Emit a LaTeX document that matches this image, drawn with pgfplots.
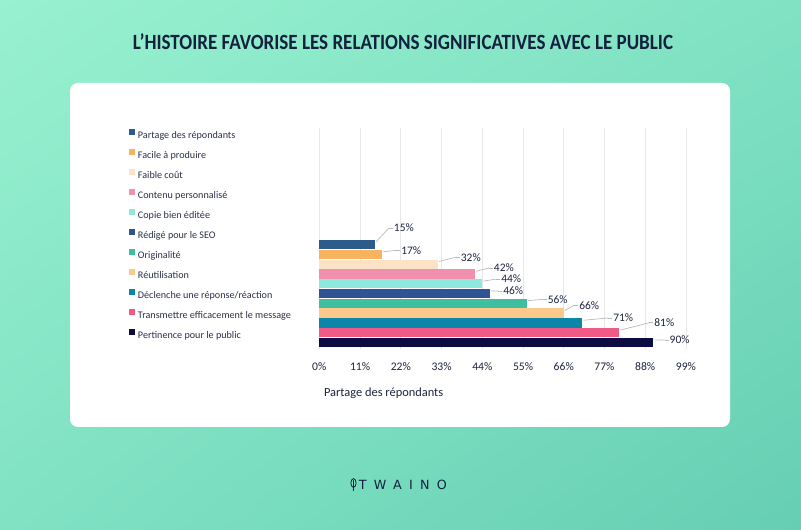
\documentclass[border=0pt]{standalone}
\usepackage{pgfplots}
\pgfplotsset{compat=1.18}
\usetikzlibrary{shadings}
\usepackage{fontspec}
\setmainfont{Carlito}
\newfontfamily\logofont{DejaVu Sans}[LetterSpace=58]
\definecolor{bgA}{HTML}{98F1D0}
\definecolor{bgB}{HTML}{80E2C3}
\definecolor{bgC}{HTML}{66CEB3}
\definecolor{titlec}{HTML}{14203D}
\definecolor{txtc}{HTML}{1D2340}
\definecolor{legc}{HTML}{2A2F4A}
\definecolor{gridc}{HTML}{E6E6E6}
\definecolor{leadc}{HTML}{B8B8B8}
\definecolor{cA}{HTML}{2C5D8A}
\definecolor{cB}{HTML}{F9B35E}
\definecolor{cC}{HTML}{FDE3C6}
\definecolor{cD}{HTML}{F190AD}
\definecolor{cE}{HTML}{8DE8DD}
\definecolor{cF}{HTML}{2E5495}
\definecolor{cG}{HTML}{3FBF9F}
\definecolor{cH}{HTML}{FCC98B}
\definecolor{cI}{HTML}{0B86A9}
\definecolor{cJ}{HTML}{EF5A86}
\definecolor{cK}{HTML}{0C0B42}
\tikzset{lead/.style={draw=leadc, fill=none, line width=0.5pt},
  lbl/.style n args={2}{anchor=west, inner sep=0.6pt, font=\fontsize{8.6pt}{10pt}\selectfont, text=txtc,
  xshift={#1*0.75pt}, yshift={#2*0.75pt},
  append after command={(\tikzlastnode.west) edge[lead] ++(-3pt,0pt)
     ([xshift=-3pt]\tikzlastnode.west) edge[lead] ++({-#1*0.75pt+3.8pt},{-#2*0.75pt+2pt})}}}
\begin{document}
\begin{tikzpicture}
\begin{scope}[x=0.75pt,y=0.75pt]
\shade[upper left=bgA, upper right=bgB, lower left=bgB, lower right=bgC] (0,0) rectangle (801,530);
\fill[white, rounded corners=6pt] (70,103) rectangle (730,447);
\node[text=titlec, inner sep=0pt] at (403,488) {\resizebox{405pt}{\height}{\fontsize{16.3pt}{18pt}\selectfont\bfseries L’HISTOIRE FAVORISE LES RELATIONS SIGNIFICATIVES AVEC LE PUBLIC}};
\draw[titlec, line width=0.6pt] (353.5,47) ellipse (2.6 and 4.4);
\draw[titlec, line width=0.6pt] (353.5,50) -- (353.5,39);
\node[text=titlec, inner sep=0pt, anchor=west] at (358.5,45) {\logofont\fontsize{9.5pt}{10pt}\selectfont TWAINO};
\end{scope}
\begin{axis}[
  at={(239.5pt,135.45pt)}, anchor=south west,
  scale only axis, width=275pt, height=166pt,
  xmin=0, xmax=99, ymin=-0.7, ymax=21.9,
  xbar, bar width=7pt,
  clip=false,
  /pgf/number format/assume math mode=true,
  axis line style={draw=none},
  major tick style={draw=none},
  ytick=\empty,
  xtick={0,11,22,33,44,55,66,77,88,99},
  xticklabels={0\%,11\%,22\%,33\%,44\%,55\%,66\%,77\%,88\%,99\%},
  xticklabel style={font=\fontsize{8.7pt}{10pt}\selectfont, text=txtc, yshift=-6pt},
  xmajorgrids, grid style={draw=gridc, line width=0.7pt},
  xlabel={Partage des répondants},
  xlabel style={at={(axis description cs:0.0,-0.197)}, anchor=west, font=\fontsize{9.3pt}{11pt}\selectfont, text=txtc},
  legend style={at={(axis description cs:-0.519,0.996)}, anchor=north west, draw=none, fill=none,
    inner sep=0pt, outer sep=0pt, font=\fontsize{7.6pt}{9pt}\selectfont, text=legc,
    row sep=6.15pt, column sep=2.2pt, nodes={inner sep=0pt, text height=6.5pt, text depth=2pt}},
  legend cell align=left,
  legend image code/.code={\fill[#1, draw=none] (0pt,0.1pt) rectangle (4.5pt,4.6pt);},
]
\addplot[fill=cA, draw=none, bar shift=0pt, nodes near coords={\pgfmathprintnumber{\pgfplotspointmeta}\%}, every node near coord/.style={lbl={18}{16.5}}] coordinates {(15,10)};
\addlegendentry{Partage des répondants}
\addplot[fill=cB, draw=none, bar shift=0pt, nodes near coords={\pgfmathprintnumber{\pgfplotspointmeta}\%}, every node near coord/.style={lbl={18}{4}}] coordinates {(17,9)};
\addlegendentry{Facile à produire}
\addplot[fill=cC, draw=none, bar shift=0pt, nodes near coords={\pgfmathprintnumber{\pgfplotspointmeta}\%}, every node near coord/.style={lbl={22}{7}}] coordinates {(32,8)};
\addlegendentry{Faible coût}
\addplot[fill=cD, draw=none, bar shift=0pt, nodes near coords={\pgfmathprintnumber{\pgfplotspointmeta}\%}, every node near coord/.style={lbl={18}{6}}] coordinates {(42,7)};
\addlegendentry{Contenu personnalisé}
\addplot[fill=cE, draw=none, bar shift=0pt, nodes near coords={\pgfmathprintnumber{\pgfplotspointmeta}\%}, every node near coord/.style={lbl={18}{4.7}}] coordinates {(44,6)};
\addlegendentry{Copie bien éditée}
\addplot[fill=cF, draw=none, bar shift=0pt, nodes near coords={\pgfmathprintnumber{\pgfplotspointmeta}\%}, every node near coord/.style={lbl={12.5}{2.5}}] coordinates {(46,5)};
\addlegendentry{Rédigé pour le SEO}
\addplot[fill=cG, draw=none, bar shift=0pt, nodes near coords={\pgfmathprintnumber{\pgfplotspointmeta}\%}, every node near coord/.style={lbl={20}{4}}] coordinates {(56,4)};
\addlegendentry{Originalité}
\addplot[fill=cH, draw=none, bar shift=0pt, nodes near coords={\pgfmathprintnumber{\pgfplotspointmeta}\%}, every node near coord/.style={lbl={14.5}{8}}] coordinates {(66,3)};
\addlegendentry{Réutilisation}
\addplot[fill=cI, draw=none, bar shift=0pt, nodes near coords={\pgfmathprintnumber{\pgfplotspointmeta}\%}, every node near coord/.style={lbl={30}{5}}] coordinates {(71,2)};
\addlegendentry{Déclenche une réponse/réaction}
\addplot[fill=cJ, draw=none, bar shift=0pt, nodes near coords={\pgfmathprintnumber{\pgfplotspointmeta}\%}, every node near coord/.style={lbl={34}{10}}] coordinates {(81,1)};
\addlegendentry{Transmettre efficacement le message}
\addplot[fill=cK, draw=none, bar shift=0pt, nodes near coords={\pgfmathprintnumber{\pgfplotspointmeta}\%}, every node near coord/.style={lbl={16}{2.5}}] coordinates {(90,0)};
\addlegendentry{Pertinence pour le public}
\end{axis}
\end{tikzpicture}
\end{document}
